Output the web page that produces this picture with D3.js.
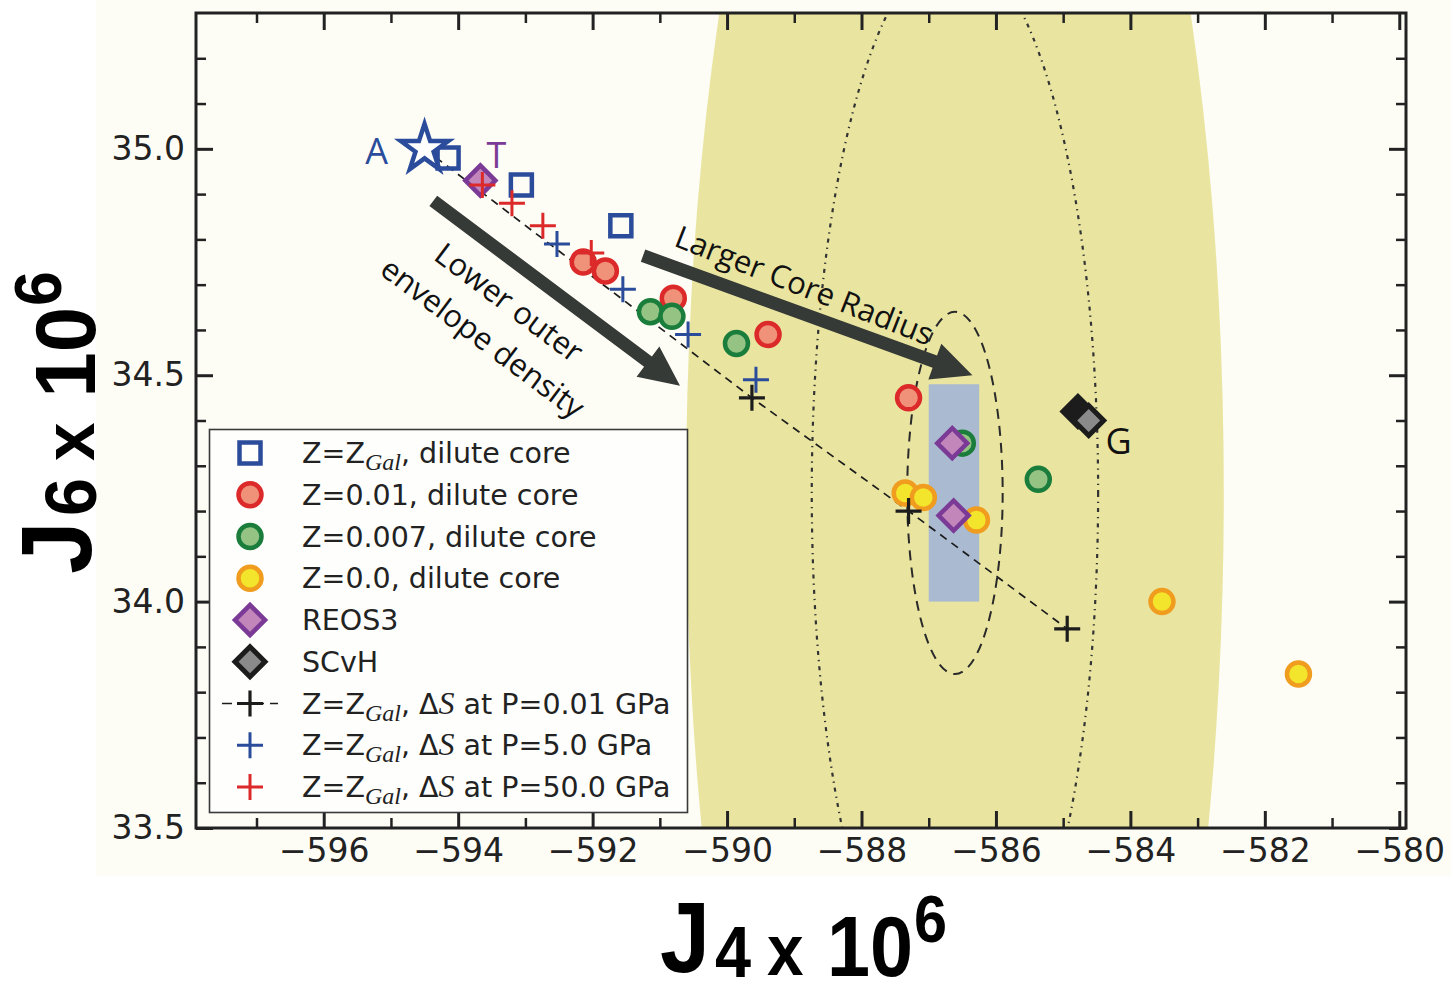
<!DOCTYPE html>
<html>
<head>
<meta charset="utf-8">
<script src="https://cdn.jsdelivr.net/npm/d3@7"></script>
<style>
  html, body { margin: 0; padding: 0; background: #ffffff; }
  svg { display: block; }
</style>
</head>
<body>
<svg id="chart" width="1451" height="994"></svg>
<script>
// ---------------- data (J4 x 1e6, J6 x 1e6) ----------------
// Z = Z_Gal, dilute core
const zGalJ4 = [-594.15, -593.06, -591.58];
const zGalJ6 = [34.98, 34.92, 34.83];
// Z = 0.01, dilute core
const z001J4 = [-592.14, -591.81, -590.80, -589.39, -587.30];
const z001J6 = [34.75, 34.73, 34.67, 34.59, 34.45];
// Z = 0.007, dilute core
const z0007J4 = [-591.14, -590.82, -589.86, -586.50, -585.37];
const z0007J6 = [34.64, 34.63, 34.57, 34.35, 34.27];
// Z = 0.0, dilute core
const z0J4 = [-587.35, -587.08, -586.29, -583.53, -581.50];
const z0J6 = [34.24, 34.23, 34.18, 34.00, 33.84];
// REOS3 and SCvH models
const reosJ4 = [-593.67, -586.65, -586.63];
const reosJ6 = [34.93, 34.35, 34.19];
const scvhJ4 = [-584.78, -584.62];
const scvhJ6 = [34.42, 34.40];
// Model A (baseline)
const modelAJ4 = [-594.50];
const modelAJ6 = [35.00];
// Z = Z_Gal, entropy step at different pressures
const dS001J4 = [-589.63, -587.30, -584.94];
const dS001J6 = [34.45, 34.20, 33.94];
const dS5J4 = [-592.53, -591.55, -590.58, -589.57];
const dS5J6 = [34.79, 34.69, 34.59, 34.49];
const dS50J4 = [-593.64, -593.20, -592.74, -592.02];
const dS50J6 = [34.92, 34.88, 34.83, 34.77];

// Juno measurement and uncertainty
const junoCenter = [-586.61, 34.24];
const junoSigma = [0.71, 0.40];
const wideRegion = [4.0, 2.2];            // half-widths of the broad shaded region
const targetBoxJ4 = [-587.0, -586.25];    // shaded target box
const targetBoxJ6 = [34.0, 34.48];

// Trend arrows (start, end)
const arrowLowerFrom = [-594.37, 34.885], arrowLowerTo = [-590.70, 34.477];
const arrowCoreFrom = [-591.25, 34.764], arrowCoreTo = [-586.35, 34.50];

// Axis ticks
const xMajorTicks = [-596, -594, -592, -590, -588, -586, -584, -582, -580];
const xMinorTicks = [-597, -595, -593, -591, -589, -587, -585, -583, -581];
const yMajorTicks = [33.5, 34.0, 34.5, 35.0];
const yMinorTicks = [33.6, 33.7, 33.8, 33.9, 34.1, 34.2, 34.3, 34.4, 34.6, 34.7, 34.8, 34.9, 35.1, 35.2];

const legendLabels = [
  [{t: "Z=Z"}, {t: "Gal", sub: true}, {t: ", dilute core"}],
  [{t: "Z=0.01, dilute core"}],
  [{t: "Z=0.007, dilute core"}],
  [{t: "Z=0.0, dilute core"}],
  [{t: "REOS3"}],
  [{t: "SCvH"}],
  [{t: "Z=Z"}, {t: "Gal", sub: true}, {t: ", Δ"}, {t: "S", it: true}, {t: " at P=0.01 GPa"}],
  [{t: "Z=Z"}, {t: "Gal", sub: true}, {t: ", Δ"}, {t: "S", it: true}, {t: " at P=5.0 GPa"}],
  [{t: "Z=Z"}, {t: "Gal", sub: true}, {t: ", Δ"}, {t: "S", it: true}, {t: " at P=50.0 GPa"}]
];

// ---------------- layout ----------------
const svg = d3.select("#chart");
const plot = {left: 196, right: 1406, top: 13, bottom: 828};
const x = d3.scaleLinear().domain([-597.9, -579.9]).range([plot.left, plot.right]);
const y = d3.scaleLinear().domain([33.5, 35.3]).range([plot.bottom, plot.top]);

const C = {
  blue: "#2b4c9b", red: "#dc2a2a", redFill: "#ef9279",
  green: "#1b7d3c", greenFill: "#95c383",
  orange: "#f09c1e", orangeFill: "#f3e52b",
  purple: "#7b3a96", purpleFill: "#c386bb",
  black: "#1c1c1c", gray: "#8a8a8a",
  khaki: "#e9e5a0", box: "#a9bad1", arrow: "#363a36", ink: "#222222"
};

// page background
svg.append("rect").attr("width", 1451).attr("height", 994).attr("fill", "#ffffff");
svg.append("rect").attr("x", 96).attr("y", 0).attr("width", 1355).attr("height", 876).attr("fill", "#fdfdf6");

svg.append("defs").append("clipPath").attr("id", "plotClip")
  .append("rect").attr("x", plot.left).attr("y", plot.top)
  .attr("width", plot.right - plot.left).attr("height", plot.bottom - plot.top);

const area = svg.append("g").attr("clip-path", "url(#plotClip)");

const sx = v => x(junoCenter[0] + v) - x(junoCenter[0]);
const sy = v => y(junoCenter[1]) - y(junoCenter[1] + v);

// broad shaded region
area.append("ellipse")
  .attr("cx", x(junoCenter[0])).attr("cy", y(junoCenter[1]))
  .attr("rx", sx(wideRegion[0])).attr("ry", sy(wideRegion[1]))
  .attr("fill", C.khaki);

// target box
area.append("rect")
  .attr("x", x(targetBoxJ4[0])).attr("y", y(targetBoxJ6[1]))
  .attr("width", x(targetBoxJ4[1]) - x(targetBoxJ4[0]))
  .attr("height", y(targetBoxJ6[0]) - y(targetBoxJ6[1]))
  .attr("fill", C.box);

// Juno 1-sigma and 3-sigma ellipses
area.append("ellipse")
  .attr("cx", x(junoCenter[0])).attr("cy", y(junoCenter[1]))
  .attr("rx", sx(3 * junoSigma[0])).attr("ry", sy(3 * junoSigma[1]))
  .attr("fill", "none").attr("stroke", "#333").attr("stroke-width", 2.2)
  .attr("stroke-dasharray", "4,5,1.3,5");
area.append("ellipse")
  .attr("cx", x(junoCenter[0])).attr("cy", y(junoCenter[1]))
  .attr("rx", sx(junoSigma[0])).attr("ry", sy(junoSigma[1]))
  .attr("fill", "none").attr("stroke", "#2a2a2a").attr("stroke-width", 2)
  .attr("stroke-dasharray", "10,7");

// ---------------- axes ----------------
function styleAxis(g, width) {
  g.select(".domain").remove();
  g.selectAll(".tick line").attr("stroke", C.ink).attr("stroke-width", width);
  g.selectAll(".tick text").attr("fill", C.ink)
    .style("font-family", "'DejaVu Sans', sans-serif").style("font-size", "33px");
}
const fmtX = d3.format(".0f"), fmtY = d3.format(".1f");

svg.append("g").attr("transform", `translate(0,${plot.bottom})`)
  .call(d3.axisBottom(x).tickValues(xMajorTicks).tickSize(-17).tickPadding(11).tickFormat(fmtX))
  .call(g => styleAxis(g, 3));
svg.append("g").attr("transform", `translate(0,${plot.bottom})`)
  .call(d3.axisBottom(x).tickValues(xMinorTicks).tickSize(-10).tickFormat(""))
  .call(g => styleAxis(g, 2.5));
svg.append("g").attr("transform", `translate(0,${plot.top})`)
  .call(d3.axisTop(x).tickValues(xMajorTicks).tickSize(-17).tickFormat(""))
  .call(g => styleAxis(g, 3));
svg.append("g").attr("transform", `translate(0,${plot.top})`)
  .call(d3.axisTop(x).tickValues(xMinorTicks).tickSize(-10).tickFormat(""))
  .call(g => styleAxis(g, 2.5));
svg.append("g").attr("transform", `translate(${plot.left},0)`)
  .call(d3.axisLeft(y).tickValues(yMajorTicks).tickSize(-17).tickPadding(11).tickFormat(fmtY))
  .call(g => styleAxis(g, 3));
svg.append("g").attr("transform", `translate(${plot.left},0)`)
  .call(d3.axisLeft(y).tickValues(yMinorTicks).tickSize(-10).tickFormat(""))
  .call(g => styleAxis(g, 2.5));
svg.append("g").attr("transform", `translate(${plot.right},0)`)
  .call(d3.axisRight(y).tickValues(yMajorTicks).tickSize(-17).tickFormat(""))
  .call(g => styleAxis(g, 3));
svg.append("g").attr("transform", `translate(${plot.right},0)`)
  .call(d3.axisRight(y).tickValues(yMinorTicks).tickSize(-10).tickFormat(""))
  .call(g => styleAxis(g, 2.5));

svg.append("rect")
  .attr("x", plot.left).attr("y", plot.top)
  .attr("width", plot.right - plot.left).attr("height", plot.bottom - plot.top)
  .attr("fill", "none").attr("stroke", C.ink).attr("stroke-width", 3);

// ---------------- arrows with annotations ----------------
function arrowPath(a, b, shaftW, headL, headW) {
  const p0 = [x(a[0]), y(a[1])], p1 = [x(b[0]), y(b[1])];
  const dx = p1[0] - p0[0], dy = p1[1] - p0[1], L = Math.hypot(dx, dy);
  const ux = dx / L, uy = dy / L, nx = -uy, ny = ux;
  const base = [p1[0] - ux * headL, p1[1] - uy * headL];
  const pts = [
    [p0[0] + nx * shaftW / 2, p0[1] + ny * shaftW / 2],
    [base[0] + nx * shaftW / 2, base[1] + ny * shaftW / 2],
    [base[0] + nx * headW / 2, base[1] + ny * headW / 2],
    p1,
    [base[0] - nx * headW / 2, base[1] - ny * headW / 2],
    [base[0] - nx * shaftW / 2, base[1] - ny * shaftW / 2],
    [p0[0] - nx * shaftW / 2, p0[1] - ny * shaftW / 2]
  ];
  return d3.line()(pts) + "Z";
}
const ann = svg.append("g").attr("clip-path", "url(#plotClip)");
ann.append("path").attr("d", arrowPath(arrowLowerFrom, arrowLowerTo, 13, 40, 38)).attr("fill", C.arrow);
ann.append("path").attr("d", arrowPath(arrowCoreFrom, arrowCoreTo, 13, 40, 38)).attr("fill", C.arrow);

function angleOf(a, b) {
  return Math.atan2(y(b[1]) - y(a[1]), x(b[0]) - x(a[0])) * 180 / Math.PI;
}
const annFont = "'Open Sans', 'DejaVu Sans', sans-serif";
// "Lower outer envelope density" sits to the lower-left of its arrow
{
  const ang = angleOf(arrowLowerFrom, arrowLowerTo);
  const mx = (x(arrowLowerFrom[0]) + x(arrowLowerTo[0])) / 2;
  const my = (y(arrowLowerFrom[1]) + y(arrowLowerTo[1])) / 2;
  const t = ang * Math.PI / 180, nx = -Math.sin(t), ny = Math.cos(t);
  const tx = Math.cos(t), ty = Math.sin(t);
  const lines = ["Lower outer", "envelope density"];
  lines.forEach((s, i) => {
    const off = 36 + i * 44, along = -24;
    ann.append("text")
      .attr("transform", `translate(${mx + nx * off + tx * along - 6},${my + ny * off + ty * along - 6}) rotate(${ang})`)
      .attr("text-anchor", "middle").attr("dominant-baseline", "central")
      .style("font-family", annFont).style("font-size", "31px").attr("fill", "#111")
      .text(s);
  });
}
// "Larger Core Radius" sits above its arrow
{
  const ang = angleOf(arrowCoreFrom, arrowCoreTo) + 1.5;
  const mx = (x(arrowCoreFrom[0]) + x(arrowCoreTo[0])) / 2;
  const my = (y(arrowCoreFrom[1]) + y(arrowCoreTo[1])) / 2;
  const t = ang * Math.PI / 180, nx = Math.sin(t), ny = -Math.cos(t);
  ann.append("text")
    .attr("transform", `translate(${mx + nx * 30 - 14},${my + ny * 30 - 3}) rotate(${ang})`)
    .attr("text-anchor", "middle").attr("dominant-baseline", "central")
    .style("font-family", annFont).style("font-size", "31px").attr("fill", "#111")
    .text("Larger Core Radius");
}

// ---------------- series ----------------
const zip = (a, b) => a.map((v, i) => [v, b[i]]);
const marks = svg.append("g").attr("clip-path", "url(#plotClip)");

// dashed track of the 0.01 GPa entropy-step runs, starting from model A
const trackPts = zip(modelAJ4.concat(dS001J4), modelAJ6.concat(dS001J6));
marks.append("path")
  .attr("d", d3.line().x(d => x(d[0])).y(d => y(d[1]))(trackPts))
  .attr("fill", "none").attr("stroke", C.black).attr("stroke-width", 1.7)
  .attr("stroke-dasharray", "8,6");

const sym = {
  square: d3.symbol().type(d3.symbolSquare).size(441)(),
  circle: d3.symbol().type(d3.symbolCircle).size(415)(),
  diamond: d3.symbol().type(d3.symbolSquare).size(450)(),
  star: d3.symbol().type(d3.symbolStar).size(700)(),
  plus: "M-13,0H13M0,-13V13"
};

function drawSeries(g, pts, shape, stroke, fill, sw, rot) {
  g.selectAll(null).data(pts).enter().append("path")
    .attr("d", sym[shape])
    .attr("transform", d => `translate(${x(d[0])},${y(d[1])})` + (rot ? ` rotate(${rot})` : ""))
    .attr("fill", (d, i) => Array.isArray(fill) ? fill[i] : fill)
    .attr("stroke", stroke).attr("stroke-width", sw)
    .attr("stroke-linejoin", "miter");
}

drawSeries(marks, zip(zGalJ4, zGalJ6), "square", C.blue, "none", 4.5);
drawSeries(marks, zip(z001J4, z001J6), "circle", C.red, C.redFill, 4.5);
drawSeries(marks, zip(z0007J4, z0007J6), "circle", C.green, C.greenFill, 4.5);
drawSeries(marks, zip(z0J4, z0J6), "circle", C.orange, C.orangeFill, 4.5);
drawSeries(marks, zip(reosJ4, reosJ6), "diamond", C.purple, C.purpleFill, 4.5, 45);
drawSeries(marks, zip(scvhJ4, scvhJ6), "diamond", C.black, [C.black, C.gray], 5, 45);
drawSeries(marks, zip(dS001J4, dS001J6), "plus", C.black, "none", 3.2);
drawSeries(marks, zip(dS5J4, dS5J6), "plus", C.blue, "none", 3);
drawSeries(marks, zip(dS50J4, dS50J6), "plus", C.red, "none", 3);
drawSeries(marks, zip(modelAJ4, modelAJ6), "star", C.blue, "#ffffff", 4.5);

// point labels
const lblFont = "'Open Sans', 'DejaVu Sans', sans-serif";
function pointLabel(px, py, dx, dy, txt, col) {
  marks.append("text").attr("x", x(px) + dx).attr("y", y(py) + dy)
    .attr("text-anchor", "middle").attr("dominant-baseline", "central")
    .style("font-family", lblFont).style("font-size", "36px").attr("fill", col).text(txt);
}
pointLabel(modelAJ4[0], modelAJ6[0], -48, 2, "A", C.blue);
pointLabel(reosJ4[0], reosJ6[0], 16, -26, "T", C.purple);
pointLabel(scvhJ4[1], scvhJ6[1], 30, 20, "G", "#111");

// ---------------- legend ----------------
const lg = svg.append("g");
lg.append("rect").attr("x", 209.5).attr("y", 429.5).attr("width", 478).attr("height", 383)
  .attr("fill", "#fefefc").attr("stroke", "#3a3a3a").attr("stroke-width", 1.6);

const legendMarks = [
  {shape: "square", stroke: C.blue, fill: "none", sw: 4.5},
  {shape: "circle", stroke: C.red, fill: C.redFill, sw: 4.5},
  {shape: "circle", stroke: C.green, fill: C.greenFill, sw: 4.5},
  {shape: "circle", stroke: C.orange, fill: C.orangeFill, sw: 4.5},
  {shape: "diamond", stroke: C.purple, fill: C.purpleFill, sw: 4.5, rot: 45},
  {shape: "diamond", stroke: C.black, fill: C.gray, sw: 5, rot: 45},
  {shape: "plus", stroke: C.black, fill: "none", sw: 3.2, line: true},
  {shape: "plus", stroke: C.blue, fill: "none", sw: 3},
  {shape: "plus", stroke: C.red, fill: "none", sw: 3}
];
const rowY = i => 453 + i * 41.75;
legendMarks.forEach((m, i) => {
  if (m.line) {
    lg.append("line").attr("x1", 222).attr("x2", 278).attr("y1", rowY(i)).attr("y2", rowY(i))
      .attr("stroke", C.black).attr("stroke-width", 1.7).attr("stroke-dasharray", "10,6");
  }
  lg.append("path").attr("d", sym[m.shape])
    .attr("transform", `translate(250,${rowY(i)})` + (m.rot ? ` rotate(${m.rot})` : ""))
    .attr("fill", m.fill).attr("stroke", m.stroke).attr("stroke-width", m.sw);
});
legendLabels.forEach((segs, i) => {
  const t = lg.append("text").attr("x", 302).attr("y", rowY(i) + 10)
    .style("font-family", "'DejaVu Sans', sans-serif").style("font-size", "28.5px").attr("fill", C.ink);
  let shifted = false;
  segs.forEach(s => {
    const ts = t.append("tspan").text(s.t);
    if (s.sub) {
      ts.attr("dy", 7).style("font-family", "'Liberation Serif', serif").style("font-style", "italic")
        .style("font-size", "24px");
      shifted = true;
    } else {
      if (shifted) { ts.attr("dy", -7); shifted = false; }
      if (s.it) ts.style("font-family", "'Liberation Serif', serif").style("font-style", "italic")
        .style("font-size", "32px");
    }
  });
});

// ---------------- axis titles ----------------
const titlePieces = [
  {t: "J", u: 0, v: 0, size: 100},
  {t: "sub", u: 55, v: 4.5, size: 72},
  {t: "x", u: 107, v: 3, size: 73},
  {t: "10", u: 167, v: 3.5, size: 86},
  {t: "6", u: 254, v: -30, size: 66}
];
function drawTitle(transform, sub, hs) {
  const g = svg.append("g").attr("transform", transform);
  const k = hs / 0.9;
  titlePieces.forEach(p => {
    g.append("text")
      .attr("transform", `translate(${p.u * k},${p.v}) scale(${hs},1)`)
      .style("font-family", "'Liberation Sans', Arial, sans-serif").style("font-weight", "bold")
      .style("font-size", p.size + "px").attr("fill", "#000")
      .text(p.t === "sub" ? sub : p.t);
  });
}
drawTitle("translate(660,972)", "4", 0.9);
drawTitle("translate(91,574) rotate(-90)", "6", 0.95);
</script>
</body>
</html>
